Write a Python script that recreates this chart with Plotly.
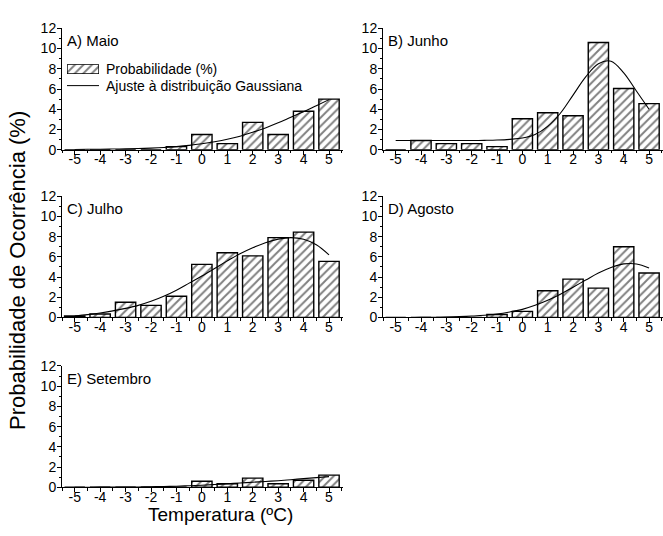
import plotly.graph_objects as go

W, H = 663, 536

temps = [-5, -4, -3, -2, -1, 0, 1, 2, 3, 4, 5]
tick_labels = ["-5", "-4", "-3", "-2", "-1", "0", "1", "2", "3", "4", "5"]

maio_prob = [0, 0, 0, 0, 0.3, 1.5, 0.6, 2.7, 1.5, 3.8, 5.0]
junho_prob = [0, 0.9, 0.6, 0.6, 0.3, 3.05, 3.65, 3.35, 10.6, 6.05, 4.55]
julho_prob = [0.15, 0.35, 1.5, 1.2, 2.1, 5.25, 6.4, 6.1, 7.9, 8.45, 5.55]
agosto_prob = [0, 0, 0, 0, 0.3, 0.6, 2.65, 3.8, 2.9, 7.0, 4.4]
setembro_prob = [0, 0, 0, 0, 0, 0.6, 0.35, 0.9, 0.35, 0.7, 1.2]

fit_x = [-5, -4.5, -4, -3.5, -3, -2.5, -2, -1.5, -1, -0.5, 0, 0.5, 1, 1.5, 2, 2.5, 3, 3.5, 4, 4.5, 5]
maio_fit = [0.02, 0.03, 0.04, 0.06, 0.08, 0.11, 0.15, 0.21, 0.3, 0.42, 0.58, 0.78, 1.02, 1.33, 1.72, 2.15, 2.65, 3.2, 3.75, 4.35, 4.95]
junho_fit = [0.9, 0.9, 0.9, 0.9, 0.9, 0.9, 0.9, 0.92, 0.95, 1.02, 1.15, 1.5, 2.3, 3.6, 5.4, 7.2, 8.5, 8.75, 7.6, 5.8, 4.0]
julho_fit = [0.15, 0.28, 0.45, 0.65, 0.9, 1.2, 1.6, 2.1, 2.7, 3.4, 4.1, 4.85, 5.6, 6.3, 6.9, 7.4, 7.75, 7.9, 7.75, 7.2, 6.2]
agosto_fit = [0.0, 0.0, 0.01, 0.02, 0.04, 0.08, 0.14, 0.22, 0.35, 0.55, 0.8, 1.2, 1.7, 2.3, 3.0, 3.7, 4.4, 4.95, 5.3, 5.3, 4.9]
setembro_fit = [0.0, 0.0, 0.01, 0.01, 0.02, 0.03, 0.05, 0.07, 0.1, 0.15, 0.2, 0.27, 0.35, 0.42, 0.5, 0.57, 0.65, 0.75, 0.85, 0.95, 1.05]

legend_labels = ["Probabilidade (%)", "Ajuste à distribuição Gaussiana"]

panels = [
    ("A) Maio", maio_prob, maio_fit),
    ("B) Junho", junho_prob, junho_fit),
    ("C) Julho", julho_prob, julho_fit),
    ("D) Agosto", agosto_prob, agosto_fit),
    ("E) Setembro", setembro_prob, setembro_fit),
]

# pixel boxes: (left, right, top, bottom)
boxes = [
    (62, 343, 21, 146),
    (383, 664, 21, 146),
    (62, 343, 194, 319),
    (383, 664, 194, 319),
    (62, 343, 369, 494),
]

font = "Liberation Sans, Arial, sans-serif"
hatch = dict(shape="/", fgcolor="black", bgcolor="white", size=6, solidity=0.32)
fig = go.Figure()
layout = {}
annotations = []

for i, ((label, prob, fit), (l, r, t, b)) in enumerate(zip(panels, boxes)):
    n = "" if i == 0 else str(i + 1)
    xa, ya = "x" + n, "y" + n
    fig.add_trace(go.Bar(
        x=temps, y=prob, width=0.8, xaxis=xa, yaxis=ya,
        marker=dict(color="white", line=dict(color="black", width=1.4), pattern=hatch),
        name=legend_labels[0], showlegend=False,
    ))
    fig.add_trace(go.Scatter(
        x=fit_x, y=fit, mode="lines", xaxis=xa, yaxis=ya,
        line=dict(color="black", width=1.1, shape="spline"),
        name=legend_labels[1], showlegend=False,
    ))
    layout["xaxis" + n] = dict(
        domain=[l / W, min(r / W, 1.0)], anchor=ya, range=[-5.5, 5.55],
        tickmode="array", tickvals=temps, ticktext=tick_labels,
        ticks="outside", ticklen=4, tickwidth=1, tickcolor="black",
        minor=dict(ticks="outside", ticklen=2.5, tickwidth=1, tickcolor="black", dtick=0.5, tick0=-5.5, showgrid=False),
        showline=True, linecolor="black", linewidth=1, showgrid=False, zeroline=False,
        tickfont=dict(family=font, size=14, color="black"), ticklabelstandoff=-7,
    )
    layout["yaxis" + n] = dict(
        domain=[1 - b / H, 1 - t / H], anchor=xa, range=[0, 12],
        tickvals=[0, 2, 4, 6, 8, 10, 12],
        ticks="outside", ticklen=4, tickwidth=1, tickcolor="black",
        minor=dict(ticks="outside", ticklen=2.5, tickwidth=1, tickcolor="black", dtick=1, showgrid=False),
        showline=True, linecolor="black", linewidth=1, showgrid=False, zeroline=False,
        tickfont=dict(family=font, size=14, color="black"), ticklabelstandoff=-2,
    )
    annotations.append(dict(
        text=label, xref="paper", yref="paper", x=(l + 3) / W, y=1 - (t + 13) / H,
        xanchor="left", yanchor="middle", showarrow=False,
        font=dict(family=font, size=15, color="black"),
    ))

# legend swatch (hatched box) on its own hidden axis
fig.add_trace(go.Bar(
    x=[0.5], y=[1], width=[1], xaxis="x6", yaxis="y6", showlegend=False,
    marker=dict(color="white", line=dict(color="black", width=1.4), pattern=hatch),
    hoverinfo="skip",
))
layout["xaxis6"] = dict(domain=[67 / W, 99 / W], anchor="y6", range=[0, 1], visible=False, fixedrange=True)
layout["yaxis6"] = dict(domain=[1 - 68 / H, 1 - 58 / H], anchor="x6", range=[0, 1], visible=False, fixedrange=True)

shapes = [dict(type="line", xref="paper", yref="paper", x0=67 / W, x1=99 / W,
               y0=1 - 80 / H, y1=1 - 80 / H, line=dict(color="black", width=1))]

for txt, yy in zip(legend_labels, [63, 80]):
    annotations.append(dict(
        text=txt, xref="paper", yref="paper", x=104 / W, y=1 - yy / H,
        xanchor="left", yanchor="middle", showarrow=False,
        font=dict(family=font, size=14, color="black"),
    ))

annotations.append(dict(
    text="Probabilidade de Ocorrência (%)", xref="paper", yref="paper",
    x=18 / W, y=1 - 271 / H, textangle=-90, xanchor="center", yanchor="middle",
    showarrow=False, font=dict(family=font, size=22, color="black"),
))
annotations.append(dict(
    text="Temperatura (ºC)", xref="paper", yref="paper",
    x=220 / W, y=1 - 522 / H, xanchor="center", yanchor="middle",
    showarrow=False, font=dict(family=font, size=19, color="black"),
))

fig.update_layout(
    width=W, height=H, margin=dict(l=0, r=0, t=0, b=0),
    paper_bgcolor="white", plot_bgcolor="white",
    annotations=annotations, shapes=shapes, showlegend=False,
    **layout,
)

fig.write_html("out.html")
